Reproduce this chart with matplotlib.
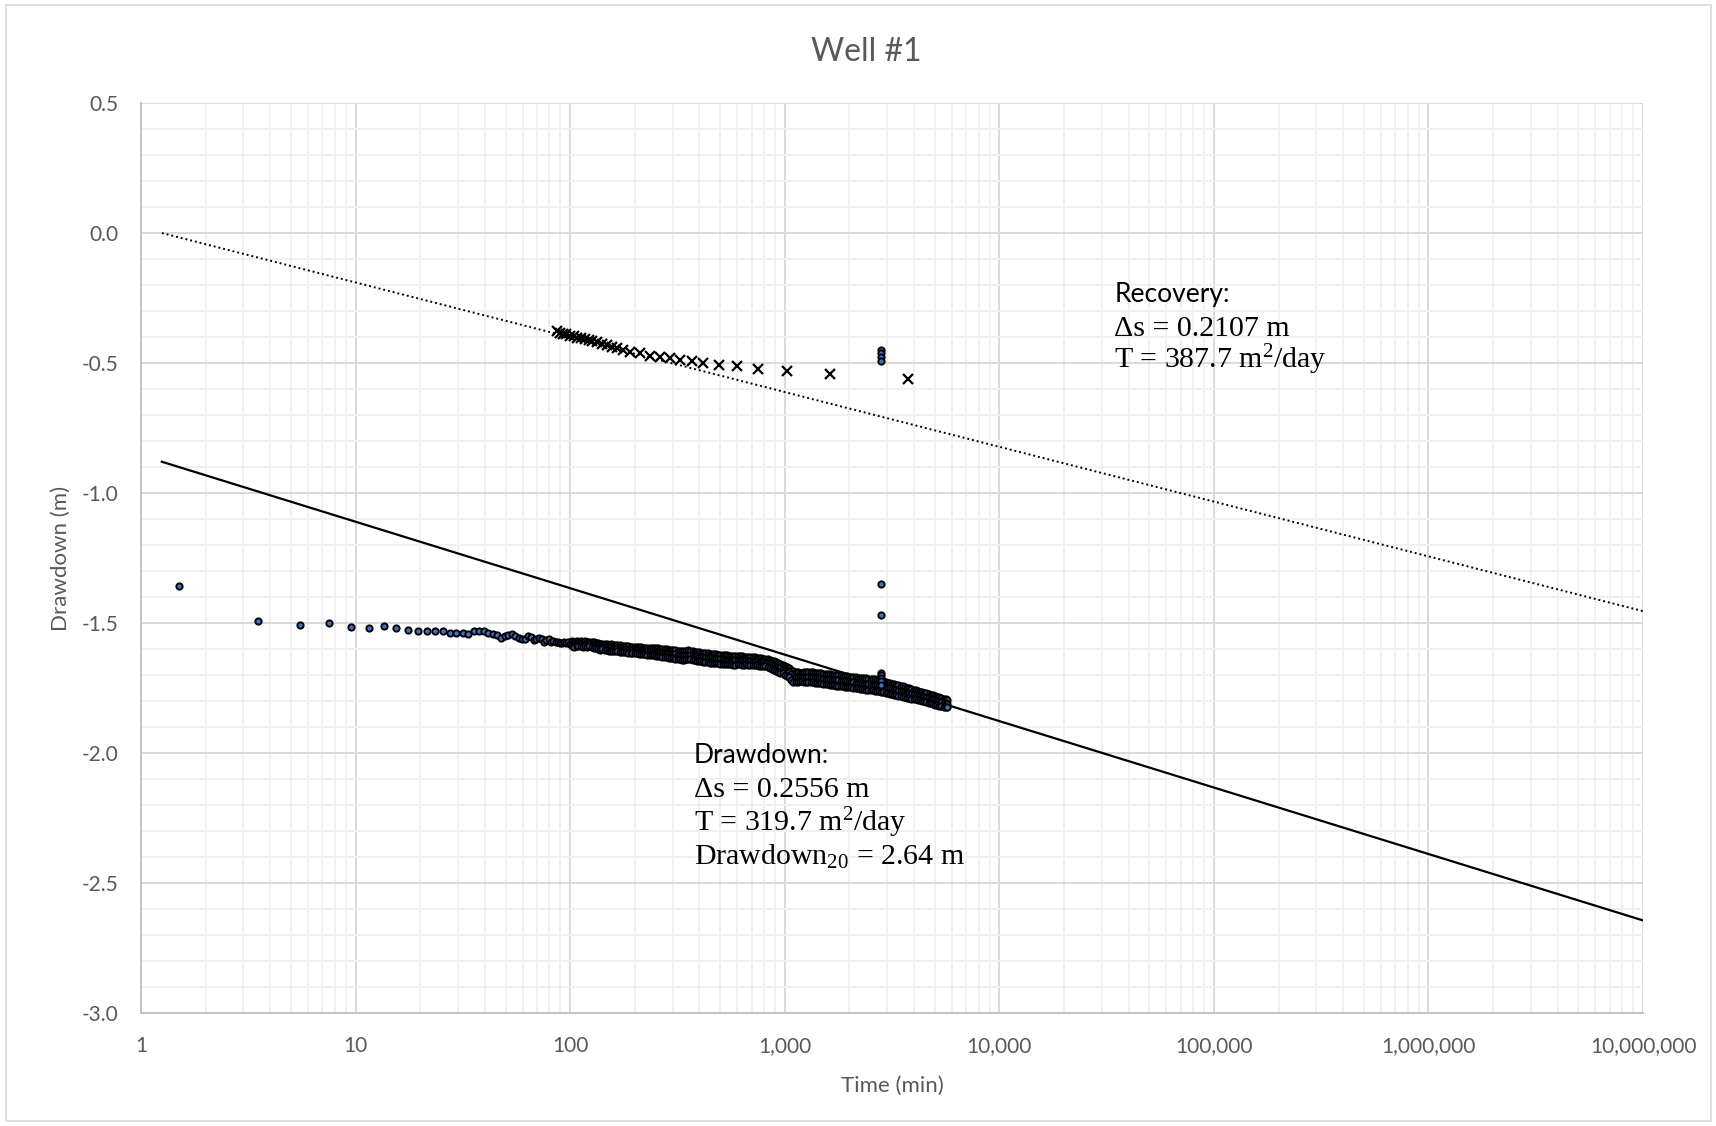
import numpy as np
import matplotlib.pyplot as plt
from matplotlib.patches import Rectangle
from matplotlib.ticker import FuncFormatter, FixedLocator, MultipleLocator, NullFormatter

plt.rcParams['font.family'] = ['Lato', 'DejaVu Sans']
plt.rcParams['axes.unicode_minus'] = False
plt.rcParams['mathtext.fontset'] = 'custom'
plt.rcParams['mathtext.rm'] = 'Liberation Serif'
plt.rcParams['mathtext.it'] = 'Liberation Serif:italic'

# ---- drawdown record (min, m); early part at the 2-min logger interval
T_EARLY = [1.5, 3.5, 5.5, 7.5, 9.5, 11.5, 13.5, 15.5, 17.5, 19.5,
           21.5, 23.5, 25.5, 27.5, 29.5, 31.5, 33.5, 35.5, 37.5, 39.5,
           41.5, 43.5, 45.5, 47.5, 49.5, 51.5, 53.5, 55.5, 57.5, 59.5,
           61.5, 63.5, 65.5, 67.5, 69.5, 71.5, 73.5, 75.5, 77.5, 79.5,
           81.5, 83.5, 85.5, 87.5, 89.5, 91.5, 93.5, 95.5, 97.5, 99.5]
S_EARLY = [-1.358, -1.491, -1.509, -1.501, -1.517, -1.521, -1.510, -1.521, -1.527, -1.529,
           -1.529, -1.530, -1.531, -1.540, -1.538, -1.537, -1.542, -1.529, -1.529, -1.531,
           -1.538, -1.542, -1.548, -1.557, -1.551, -1.547, -1.544, -1.549, -1.557, -1.562,
           -1.562, -1.551, -1.553, -1.565, -1.563, -1.556, -1.563, -1.572, -1.565, -1.563,
           -1.572, -1.568, -1.574, -1.572, -1.576, -1.578, -1.572, -1.578, -1.574, -1.581]

# dense part of the record: upper edge, middle, lower edge
T_LATE = [102, 104, 107, 109, 112, 115, 117, 120, 123, 126, 129, 132, 135, 138, 141, 145,
          148, 151, 155, 159, 162, 166, 170, 174, 178, 182, 186, 191, 195, 200, 204, 209,
          214, 219, 224, 229, 235, 240, 246, 251, 257, 263, 269, 276, 282, 289, 295, 302,
          309, 317, 324, 331, 339, 347, 355, 363, 372, 380, 389, 398, 407, 417, 427, 437,
          447, 457, 468, 479, 490, 501, 513, 525, 537, 549, 562, 575, 589, 603, 617, 631,
          646, 661, 676, 692, 708, 724, 741, 759, 776, 795, 813, 832, 851, 871, 891, 912,
          933, 955, 977, 1000, 1023, 1047, 1072, 1096, 1122, 1148, 1175, 1202, 1230, 1259,
          1288, 1318, 1349, 1380, 1413, 1445, 1479, 1514, 1549, 1585, 1622, 1660, 1698,
          1738, 1778, 1820, 1862, 1905, 1950, 1995, 2042, 2089, 2138, 2188, 2239, 2291,
          2344, 2399, 2455, 2512, 2570, 2630, 2692, 2754, 2818, 2884, 2951, 3020, 3090,
          3162, 3236, 3311, 3388, 3467, 3548, 3631, 3715, 3802, 3890, 3981, 4074, 4169,
          4266, 4365, 4467, 4571, 4677, 4786, 4898, 5012, 5129, 5248, 5370, 5495, 5623, 5700]
S_UP = [-1.570, -1.572, -1.569, -1.572, -1.571, -1.573, -1.570, -1.573, -1.572, -1.575,
        -1.574, -1.577, -1.578, -1.581, -1.580, -1.582,
        -1.582, -1.583, -1.582, -1.584, -1.583, -1.585, -1.586, -1.587, -1.588, -1.589,
        -1.590, -1.591, -1.592, -1.593, -1.593, -1.594,
        -1.594, -1.595, -1.595, -1.596, -1.596, -1.597, -1.596, -1.595, -1.598, -1.599,
        -1.600, -1.601, -1.601, -1.602, -1.603, -1.604,
        -1.605, -1.606, -1.607, -1.607, -1.607, -1.606, -1.605, -1.606, -1.609, -1.610,
        -1.611, -1.612, -1.614, -1.615, -1.616, -1.617,
        -1.618, -1.619, -1.620, -1.621, -1.622, -1.623, -1.624, -1.625, -1.625, -1.626,
        -1.626, -1.627, -1.627, -1.627, -1.628, -1.628,
        -1.629, -1.629, -1.630, -1.630, -1.631, -1.632, -1.633, -1.635, -1.636, -1.637,
        -1.638, -1.640, -1.642, -1.645, -1.648, -1.651,
        -1.654, -1.657, -1.660, -1.664, -1.668, -1.672, -1.679, -1.685, -1.688, -1.690,
        -1.691, -1.691, -1.690, -1.690,
        -1.690, -1.690, -1.690, -1.691, -1.692, -1.693, -1.694, -1.695, -1.696, -1.697,
        -1.698, -1.699, -1.700,
        -1.701, -1.701, -1.702, -1.703, -1.704, -1.705, -1.706, -1.707, -1.708, -1.709,
        -1.710, -1.710, -1.711,
        -1.712, -1.713, -1.714, -1.715, -1.716, -1.717, -1.718, -1.719, -1.721, -1.724,
        -1.728, -1.730, -1.732,
        -1.734, -1.736, -1.738, -1.740, -1.742, -1.744, -1.747, -1.749, -1.752, -1.754,
        -1.757, -1.759, -1.762,
        -1.764, -1.766, -1.769, -1.771, -1.773, -1.776, -1.778, -1.780, -1.783, -1.785,
        -1.788, -1.791, -1.793, -1.795]
S_MID = [-1.580, -1.581, -1.579, -1.581, -1.580, -1.583, -1.580, -1.582, -1.581, -1.585,
         -1.584, -1.587, -1.588, -1.591, -1.591, -1.593,
         -1.594, -1.595, -1.594, -1.596, -1.596, -1.597, -1.598, -1.599, -1.600, -1.601,
         -1.602, -1.603, -1.604, -1.605, -1.605, -1.606,
         -1.607, -1.608, -1.608, -1.609, -1.609, -1.610, -1.611, -1.611, -1.612, -1.613,
         -1.615, -1.616, -1.616, -1.617, -1.618, -1.619,
         -1.621, -1.622, -1.623, -1.624, -1.624, -1.623, -1.622, -1.623, -1.625, -1.627,
         -1.628, -1.629, -1.631, -1.632, -1.633, -1.634,
         -1.635, -1.636, -1.637, -1.638, -1.638, -1.639, -1.640, -1.641, -1.642, -1.642,
         -1.643, -1.643, -1.644, -1.643, -1.643, -1.644,
         -1.644, -1.644, -1.645, -1.645, -1.646, -1.647, -1.648, -1.649, -1.650, -1.651,
         -1.652, -1.655, -1.657, -1.661, -1.664, -1.668,
         -1.671, -1.674, -1.677, -1.681, -1.686, -1.690, -1.698, -1.705, -1.707, -1.708,
         -1.708, -1.708, -1.708, -1.708,
         -1.708, -1.709, -1.709, -1.710, -1.711, -1.712, -1.713, -1.714, -1.715, -1.716,
         -1.717, -1.718, -1.720,
         -1.721, -1.721, -1.722, -1.723, -1.724, -1.725, -1.726, -1.727, -1.728, -1.730,
         -1.731, -1.731, -1.732,
         -1.733, -1.734, -1.735, -1.736, -1.737, -1.739, -1.740, -1.741, -1.743, -1.745,
         -1.748, -1.750, -1.752,
         -1.754, -1.756, -1.758, -1.760, -1.762, -1.763, -1.766, -1.768, -1.770, -1.772,
         -1.775, -1.776, -1.779,
         -1.781, -1.783, -1.785, -1.787, -1.789, -1.792, -1.794, -1.797, -1.799, -1.801,
         -1.804, -1.806, -1.808, -1.810]
S_LO = [-1.589, -1.591, -1.588, -1.590, -1.589, -1.592, -1.589, -1.591, -1.590, -1.594,
        -1.595, -1.597, -1.599, -1.602, -1.601, -1.604,
        -1.605, -1.606, -1.607, -1.608, -1.608, -1.609, -1.610, -1.611, -1.612, -1.613,
        -1.614, -1.615, -1.615, -1.616, -1.617, -1.618,
        -1.619, -1.620, -1.621, -1.622, -1.622, -1.624, -1.625, -1.626, -1.627, -1.628,
        -1.630, -1.631, -1.631, -1.633, -1.634, -1.635,
        -1.637, -1.638, -1.639, -1.641, -1.641, -1.640, -1.638, -1.639, -1.642, -1.643,
        -1.645, -1.646, -1.648, -1.649, -1.650, -1.651,
        -1.652, -1.653, -1.653, -1.654, -1.655, -1.656, -1.657, -1.658, -1.658, -1.659,
        -1.659, -1.660, -1.660, -1.659, -1.659, -1.660,
        -1.660, -1.659, -1.660, -1.660, -1.661, -1.662, -1.663, -1.664, -1.665, -1.666,
        -1.667, -1.670, -1.673, -1.677, -1.681, -1.685,
        -1.688, -1.691, -1.694, -1.699, -1.704, -1.709, -1.718, -1.726, -1.727, -1.726,
        -1.725, -1.725, -1.726, -1.727,
        -1.727, -1.728, -1.728, -1.729, -1.730, -1.731, -1.732, -1.733, -1.734, -1.735,
        -1.737, -1.738, -1.740,
        -1.741, -1.742, -1.743, -1.744, -1.745, -1.746, -1.747, -1.748, -1.749, -1.751,
        -1.752, -1.753, -1.754,
        -1.755, -1.756, -1.757, -1.758, -1.759, -1.761, -1.762, -1.763, -1.765, -1.767,
        -1.769, -1.771, -1.773,
        -1.774, -1.776, -1.778, -1.780, -1.782, -1.783, -1.785, -1.787, -1.789, -1.791,
        -1.793, -1.794, -1.796,
        -1.798, -1.800, -1.802, -1.804, -1.806, -1.809, -1.811, -1.814, -1.816, -1.818,
        -1.820, -1.822, -1.824, -1.825]

# readings logged around the pump stop (t ~ 2820 min)
T_STOP = [2820] * 11
S_STOP = [-0.450, -0.463, -0.476, -0.491, -1.350, -1.469,
          -1.692, -1.702, -1.712, -1.724, -1.738]

# ---- recovery record
T_REC = [86.6, 90, 93, 96, 100, 104, 108, 112, 117, 122, 127, 133, 140, 148, 157, 166,
         177, 190, 211, 235, 262, 292, 324, 369, 418, 494, 597, 753, 1028, 1630, 3767]
S_REC = [-0.378, -0.383, -0.387, -0.390, -0.395, -0.398, -0.402, -0.405, -0.409, -0.413,
         -0.417, -0.421, -0.426, -0.431, -0.437, -0.443, -0.449, -0.456, -0.463, -0.472,
         -0.478, -0.482, -0.488, -0.493, -0.500, -0.506, -0.510, -0.522, -0.532, -0.542,
         -0.563]

# ---- Cooper-Jacob fits: s = a - ds * log10(t)
FIT_T = [1.25, 1.0e7]
DD_A, DD_DS = -0.855, 0.2556
REC_A, REC_DS = 0.0204, 0.2107

X_TICKS = [1, 10, 100, 1e3, 1e4, 1e5, 1e6, 1e7]
GRAY = '#595959'


def main():
    fig = plt.figure(figsize=(17.16, 11.26), dpi=100)
    ax = fig.add_axes([0.0822, 0.1004, 0.8753, 0.8081])

    fit_t = np.array(FIT_T)
    ax.plot(fit_t, DD_A - DD_DS * np.log10(fit_t), color='black', lw=1.6, zorder=3)
    ax.plot(fit_t, REC_A - REC_DS * np.log10(fit_t), color='black', lw=1.4,
            ls=(0, (1, 1.5)), zorder=3)

    mk = dict(ls='none', marker='o', ms=4.5, mfc='#4472C4', mec='black', mew=1.4, zorder=4)
    ax.plot(T_EARLY, S_EARLY, **mk)
    for s in (S_UP, S_MID, S_LO):
        ax.plot(T_LATE, s, **mk)
    ax.plot(T_STOP, S_STOP, **mk)
    ax.plot(T_REC, S_REC, ls='none', marker='x', ms=6.5, mew=1.6, color='black', zorder=4)

    ax.set_xscale('log')
    ax.set_xlim(1, 1e7)
    ax.set_ylim(-3.0, 0.5)
    ax.xaxis.set_major_locator(FixedLocator(X_TICKS))
    ax.xaxis.set_minor_locator(FixedLocator(
        [m * 10 ** e for e in range(7) for m in range(2, 10)]))
    ax.xaxis.set_major_formatter(FuncFormatter(lambda v, p: f"{v:,.0f}"))
    ax.xaxis.set_minor_formatter(NullFormatter())
    ax.yaxis.set_major_locator(MultipleLocator(0.5))
    ax.yaxis.set_minor_locator(MultipleLocator(0.1))
    ax.yaxis.set_major_formatter(FuncFormatter(lambda v, p: f"{v:.1f}"))

    ax.grid(which='minor', color='#f0f0f0', lw=1.4, zorder=0)
    ax.grid(which='major', color='#d9d9d9', lw=1.4, zorder=0)
    ax.set_axisbelow(True)
    for s in ['top', 'right']:
        ax.spines[s].set_visible(False)
    for s in ['left', 'bottom']:
        ax.spines[s].set_color('#bfbfbf')
        ax.spines[s].set_linewidth(1.3)
    ax.tick_params(which='both', length=0, labelsize=15, labelcolor=GRAY)
    ax.tick_params(axis='x', pad=16.5)
    ax.tick_params(axis='y', pad=16)

    ax.set_xlabel('Time (min)', fontsize=16, color=GRAY, labelpad=14.5)
    ax.set_ylabel('Drawdown (m)', fontsize=16, color=GRAY, labelpad=8)
    fig.text(0.5046, 0.954, 'Well #1', fontsize=23, color=GRAY, ha='center', va='center')

    serif = 'Liberation Serif'
    tx = ax.transAxes
    ax.text(0.648, 0.781, 'Recovery:', transform=tx, fontsize=19, va='baseline')
    ax.text(0.648, 0.744, 'Δs = 0.2107 m', transform=tx, fontsize=21.5, family=serif, va='baseline')
    ax.text(0.648, 0.708, r'T = 387.7 m$^{2}$/day', transform=tx, fontsize=21.5, family=serif,
            va='baseline')

    ax.text(0.368, 0.2747, 'Drawdown:', transform=tx, fontsize=19, va='baseline')
    ax.text(0.368, 0.2374, 'Δs = 0.2556 m', transform=tx, fontsize=21.5, family=serif, va='baseline')
    ax.text(0.368, 0.2000, r'T = 319.7 m$^{2}$/day', transform=tx, fontsize=21.5, family=serif,
            va='baseline')
    ax.text(0.368, 0.1626, r'Drawdown$_{\mathrm{20}}$ = 2.64 m', transform=tx, fontsize=21.5,
            family=serif, va='baseline')

    fig.patches.append(Rectangle((6 / 1716, 5 / 1126), 1705 / 1716, 1116 / 1126,
                                 transform=fig.transFigure, fill=False,
                                 edgecolor='#d9d9d9', lw=1.2))

    fig.savefig('out.png', dpi=100, facecolor='white')


if __name__ == '__main__':
    main()
